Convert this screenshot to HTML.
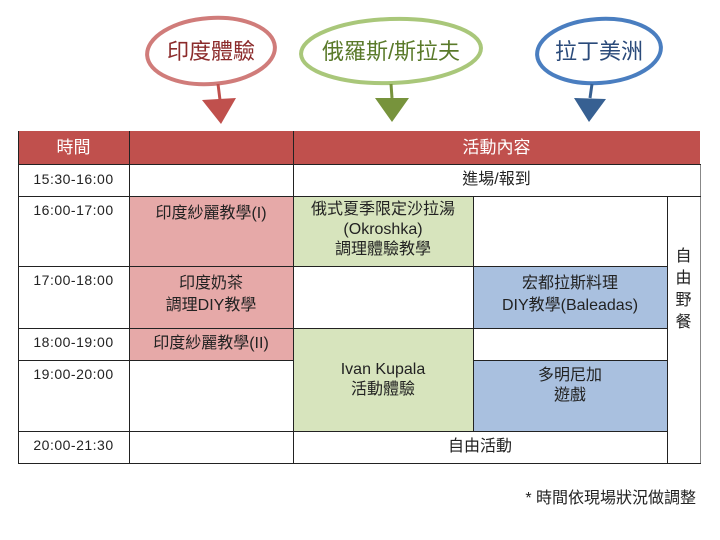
<!DOCTYPE html>
<html><head><meta charset="utf-8"><style>
body{margin:0;width:720px;height:540px;background:#fff;position:relative;overflow:hidden;font-family:"Liberation Sans","Noto Sans CJK TC",sans-serif;}
.c{position:absolute;box-sizing:border-box;display:flex;align-items:center;justify-content:center;text-align:center;font-size:16px;color:#222;line-height:20px;}
.t{align-items:flex-start;padding-top:6px;}
.ln{position:absolute;background:#222;}
.tm{position:absolute;left:18px;width:111px;font-size:14px;text-align:center;color:#222;letter-spacing:0.5px;}
</style></head><body>
<svg width="720" height="130" style="position:absolute;left:0;top:0">
<g fill="none" stroke-width="4">
<ellipse cx="211" cy="51" rx="64" ry="33" stroke="#d07c7a" transform="rotate(-4 211 51)"/>
<ellipse cx="391" cy="51" rx="90" ry="32" stroke="#a9c77a" transform="rotate(-2 391 51)"/>
<ellipse cx="599" cy="51" rx="62" ry="32" stroke="#4a7ec0" transform="rotate(-4 599 51)"/>
</g>
<path d="M218 84 L220 100" stroke="#c0504d" stroke-width="3"/>
<polygon points="202,100 236,98 221,124" fill="#c0504d"/>
<path d="M391 84 L392 98" stroke="#77933c" stroke-width="3"/>
<polygon points="375,98 409,98 392,122" fill="#77933c"/>
<path d="M592 84 L590 98" stroke="#376092" stroke-width="3"/>
<polygon points="574,98 606,99 589,122" fill="#376092"/>
<g font-size="22" font-family="Liberation Sans,Noto Sans CJK TC,sans-serif">
<text x="211" y="59" text-anchor="middle" fill="#8b2a2a">印度體驗</text>
<text x="391" y="59" text-anchor="middle" fill="#5a7a2a">俄羅斯/斯拉夫</text>
<text x="599" y="59" text-anchor="middle" fill="#2a4a7a">拉丁美洲</text>
</g>
</svg>

<div class="c" style="left:18px;top:131px;width:682px;height:33px;background:#c0504d;"></div>
<div class="c" style="left:18px;top:131px;width:111px;height:33px;color:#fff;font-size:17px">時間</div>
<div class="c" style="left:293px;top:131px;width:407px;height:33px;color:#fff;font-size:17px">活動內容</div>

<div class="c t" style="left:129px;top:196px;width:164px;height:70px;background:#e6a9a8;padding-top:8px">印度紗麗教學(I)</div>
<div class="c t" style="left:293px;top:196px;width:180px;height:70px;background:#d7e4bd;padding-top:4px">俄式夏季限定沙拉湯<br>(Okroshka)<br>調理體驗教學</div>
<div class="c t" style="left:129px;top:266px;width:164px;height:62px;background:#e6a9a8;padding-top:7px;line-height:22px">印度奶茶<br>調理DIY教學</div>
<div class="c t" style="left:473px;top:266px;width:194px;height:62px;background:#a9c0df;padding-top:7px;line-height:22px">宏都拉斯料理<br>DIY教學(Baleadas)</div>
<div class="c" style="left:129px;top:328px;width:164px;height:32px;background:#e6a9a8">印度紗麗教學(II)</div>
<div class="c t" style="left:293px;top:328px;width:180px;height:103px;background:#d7e4bd;padding-top:32px">Ivan Kupala<br>活動體驗</div>
<div class="c t" style="left:473px;top:360px;width:194px;height:71px;background:#a9c0df">多明尼加<br>遊戲</div>
<div class="c" style="left:293px;top:164px;width:407px;height:32px">進場/報到</div>
<div class="c" style="left:293px;top:431px;width:374px;height:32px">自由活動</div>
<div class="c" style="left:667px;top:245px;width:33px;height:90px;line-height:22px;font-size:16px">自<br>由<br>野<br>餐</div>

<div class="tm" style="top:171px">15:30-16:00</div>
<div class="tm" style="top:202px">16:00-17:00</div>
<div class="tm" style="top:272px">17:00-18:00</div>
<div class="tm" style="top:334px">18:00-19:00</div>
<div class="tm" style="top:366px">19:00-20:00</div>
<div class="tm" style="top:437px">20:00-21:30</div>

<div class="ln" style="left:18px;top:131px;width:1px;height:333px"></div>
<div class="ln" style="left:129px;top:131px;width:1px;height:333px"></div>
<div class="ln" style="left:293px;top:131px;width:1px;height:333px"></div>
<div class="ln" style="left:473px;top:196px;width:1px;height:235px"></div>
<div class="ln" style="left:667px;top:196px;width:1px;height:268px"></div>
<div class="ln" style="left:700px;top:164px;width:1px;height:300px;background:#888"></div>
<div class="ln" style="left:18px;top:164px;width:683px;height:1px"></div>
<div class="ln" style="left:18px;top:196px;width:683px;height:1px"></div>
<div class="ln" style="left:18px;top:266px;width:649px;height:1px"></div>
<div class="ln" style="left:18px;top:328px;width:649px;height:1px"></div>
<div class="ln" style="left:18px;top:360px;width:275px;height:1px"></div>
<div class="ln" style="left:473px;top:360px;width:194px;height:1px"></div>
<div class="ln" style="left:18px;top:431px;width:649px;height:1px"></div>
<div class="ln" style="left:18px;top:463px;width:683px;height:1px"></div>

<div style="position:absolute;left:480px;top:484px;width:216px;text-align:right;font-size:16px;color:#222">* 時間依現場狀況做調整</div>
</body></html>
